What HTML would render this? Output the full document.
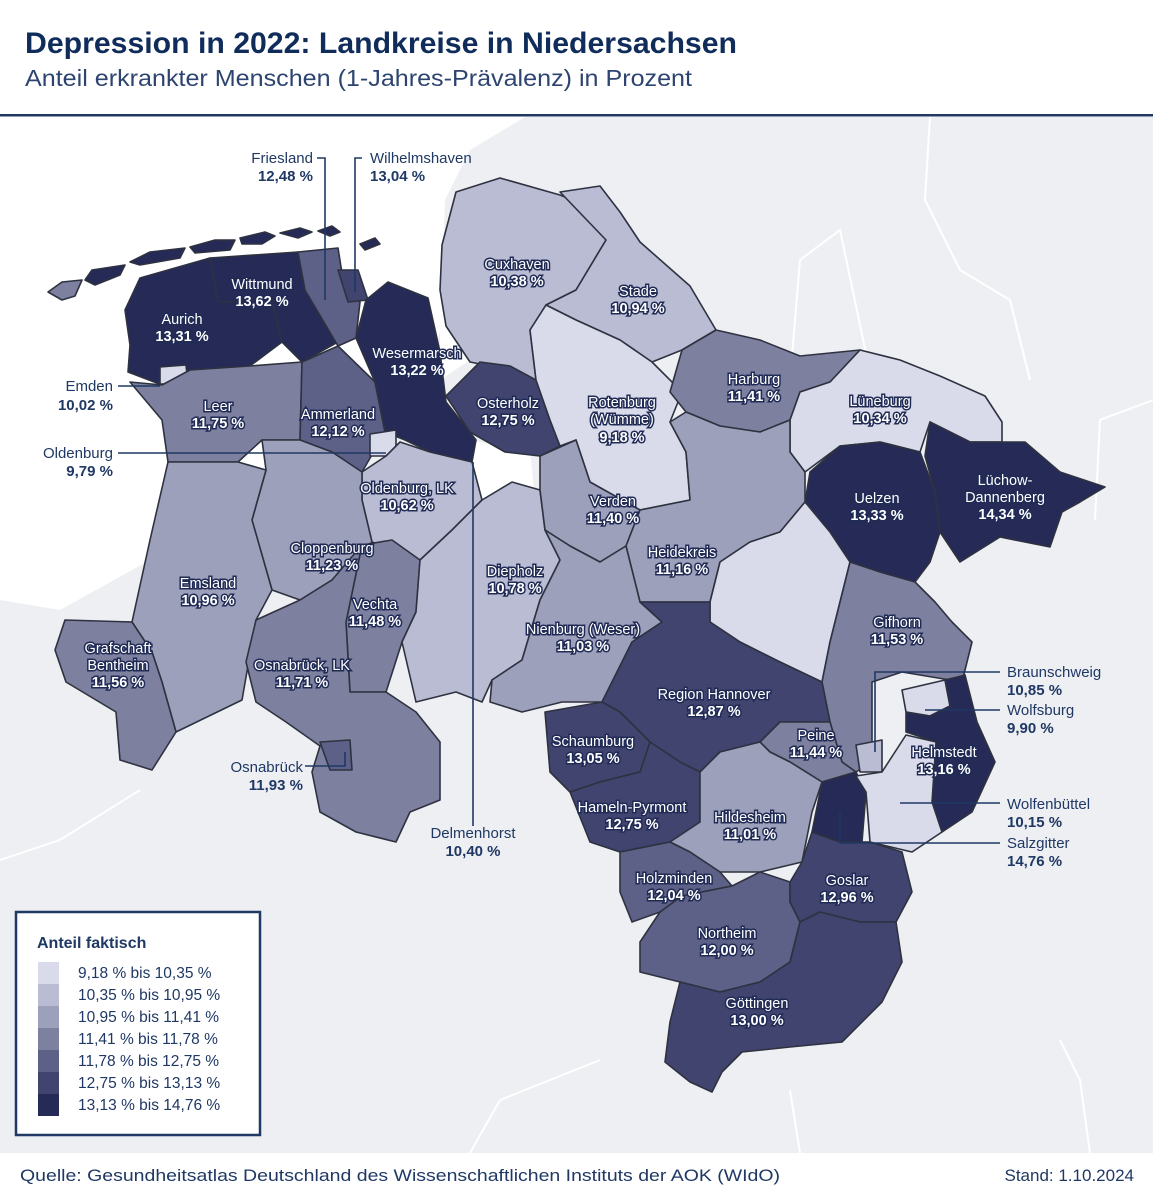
<!DOCTYPE html>
<html><head><meta charset="utf-8">
<style>
html,body{margin:0;padding:0;background:#fff;}
svg{display:block;font-family:"Liberation Sans",sans-serif;}
.r{stroke:#2e3240;stroke-width:1.6;stroke-linejoin:round;}
.c1{fill:#d9dbea}.c2{fill:#b9bcd3}.c3{fill:#9da0bb}.c4{fill:#7d809f}.c5{fill:#5e6187}.c6{fill:#41446e}.c7{fill:#262a57}
.in{font-size:14.5px;fill:#fff;stroke:#1f2a55;stroke-width:3px;paint-order:stroke;text-anchor:middle;}
.b{font-weight:bold;}
.out{font-size:15px;fill:#1f3864;}
.ld{stroke:#1f3864;stroke-width:1.6;fill:none;}
</style></head><body>
<svg width="1153" height="1200" viewBox="0 0 1153 1200" xmlns="http://www.w3.org/2000/svg">
<rect width="1153" height="1200" fill="#fff"/>
<text x="25" y="53" font-size="30" font-weight="bold" fill="#0f2c5a" textLength="712" lengthAdjust="spacingAndGlyphs">Depression in 2022: Landkreise in Niedersachsen</text>
<text x="25" y="86" font-size="23" fill="#2d4470" textLength="667" lengthAdjust="spacingAndGlyphs">Anteil erkrankter Menschen (1-Jahres-Prävalenz) in Prozent</text>
<rect x="0" y="114" width="1153" height="2.5" fill="#1f3864"/>
<rect x="0" y="117" width="1153" height="1036" fill="#eeeff2"/>
<path d="M0,117 L525,117 L470,150 L445,200 L440,330 L420,420 L300,470 L150,560 L60,610 L0,600 Z" fill="#fff"/>
<path d="M440,300 L470,330 L470,360 L440,380 Z M465,440 L530,450 L535,500 L480,505 Z" fill="#fff"/>
<g fill="none" stroke="#fff" stroke-width="2">
<path d="M930,117 L925,200 L960,270 L1010,300 L1030,380"/>
<path d="M790,380 L800,260 L840,230 L880,420"/>
<path d="M1153,400 L1100,420 L1095,520"/>
<path d="M0,860 L60,840 L140,790"/>
<path d="M470,1153 L500,1100 L600,1060"/>
<path d="M800,1153 L790,1090 M1090,1153 L1080,1080 L1060,1040"/>
</g>
<g class="r">
<path class="c4" d="M48,292 L62,282 L82,280 L75,296 L62,300 Z"/>
<path class="c7" d="M85,280 L92,270 L125,265 L120,275 L95,285 Z M130,262 L150,252 L185,248 L180,258 L140,265 Z M190,247 L215,240 L235,240 L230,250 L195,253 Z M240,238 L265,232 L275,236 L262,244 L242,244 Z M280,233 L300,228 L312,232 L298,238 Z M318,231 L332,226 L340,232 L330,236 Z M360,244 L375,238 L380,244 L365,250 Z"/>
<path class="c7" d="M125,310 L140,278 L210,258 L218,302 L272,300 L282,342 L250,366 L190,370 L162,385 L128,372 L130,345 Z"/>
<path class="c7" d="M210,258 L298,252 L305,290 L338,342 L302,362 L282,342 L272,300 L218,302 Z"/>
<path class="c5" d="M298,252 L338,248 L345,292 L360,302 L356,338 L338,346 L305,290 Z"/>
<path class="c6" d="M338,270 L358,270 L368,300 L348,302 Z"/>
<path class="c1" d="M160,367 L186,365 L188,384 L160,384 Z"/>
<path class="c4" d="M130,382 L162,385 L190,370 L250,366 L302,362 L300,440 L262,440 L238,462 L168,462 L162,420 Z"/>
<path class="c5" d="M302,362 L338,346 L375,382 L385,432 L362,472 L332,452 L300,440 Z"/>
<path class="c7" d="M388,282 L428,298 L440,352 L446,402 L476,440 L472,462 L430,452 L405,440 L385,432 L375,382 L356,338 L366,300 Z"/>
<path class="c1" d="M370,434 L396,430 L396,456 L370,456 Z"/>
<path class="c2" d="M362,472 L386,456 L400,442 L430,452 L472,462 L482,500 L452,530 L420,560 L372,542 L362,500 Z"/>
<path class="c3" d="M262,440 L300,440 L332,452 L362,472 L362,500 L372,542 L332,580 L300,600 L272,590 L252,520 L266,470 Z"/>
<path class="c3" d="M168,462 L238,462 L266,470 L252,520 L272,590 L256,620 L242,700 L176,732 L162,682 L152,652 L132,622 L150,540 Z"/>
<path class="c4" d="M65,620 L132,622 L152,652 L162,682 L176,732 L152,770 L120,760 L116,712 L66,682 L55,650 Z"/>
<path class="c4" d="M362,545 L392,540 L420,560 L416,612 L402,642 L386,692 L350,692 L346,622 Z"/>
<path class="c4" d="M256,620 L300,600 L332,580 L362,545 L346,622 L350,692 L386,692 L416,712 L440,742 L440,800 L410,812 L396,842 L356,832 L320,812 L312,772 L320,746 L286,722 L256,702 L246,662 Z"/>
<path class="c5" d="M320,742 L350,740 L352,770 L330,770 Z"/>
<path class="c2" d="M420,560 L452,530 L482,500 L512,482 L540,490 L545,530 L560,560 L540,600 L522,660 L492,680 L482,702 L456,692 L416,702 L402,642 L416,612 Z"/>
<path class="c2" d="M442,245 L456,192 L500,178 L560,195 L602,212 L606,240 L576,290 L546,305 L530,330 L536,380 L510,390 L490,366 L470,362 L446,326 L440,290 Z"/>
<path class="c2" d="M560,192 L600,186 L620,212 L640,242 L690,286 L716,330 L682,350 L652,362 L620,340 L576,320 L546,305 L576,290 L606,240 Z"/>
<path class="c6" d="M446,396 L480,362 L510,366 L536,380 L550,420 L560,446 L540,456 L505,452 L470,432 Z"/>
<path class="c1" d="M546,305 L576,320 L620,340 L652,362 L682,392 L670,422 L686,452 L690,500 L640,510 L590,482 L576,440 L560,446 L550,420 L536,380 L530,330 Z"/>
<path class="c3" d="M540,456 L576,440 L590,482 L640,510 L626,546 L600,562 L570,546 L545,530 L540,490 Z"/>
<path class="c4" d="M682,350 L716,330 L760,340 L800,356 L860,350 L830,382 L800,392 L790,420 L760,432 L720,426 L686,412 L670,392 Z"/>
<path class="c1" d="M800,392 L830,382 L860,350 L900,360 L940,376 L985,396 L1002,422 L1002,442 L970,442 L930,422 L920,452 L880,442 L840,446 L805,472 L790,452 L790,420 Z"/>
<path class="c7" d="M930,422 L970,442 L1002,442 L1025,442 L1060,472 L1105,487 L1080,502 L1062,512 L1050,547 L1000,537 L960,562 L940,532 L935,492 L925,456 Z"/>
<path class="c7" d="M840,446 L880,442 L920,452 L935,492 L940,532 L930,562 L915,582 L880,572 L850,562 L830,532 L805,502 L810,472 Z"/>
<path class="c3" d="M686,412 L720,426 L760,432 L790,420 L790,452 L805,472 L805,502 L780,532 L750,542 L720,562 L710,602 L670,602 L640,602 L626,546 L640,510 L690,500 L686,452 L670,422 Z"/>
<path class="c1" d="M720,562 L750,542 L780,532 L805,502 L830,532 L850,562 L840,602 L830,642 L822,682 L780,662 L740,642 L710,622 L710,602 Z"/>
<path class="c4" d="M850,562 L880,572 L915,582 L935,602 L952,622 L972,642 L962,682 L902,672 L872,682 L872,762 L856,772 L842,762 L830,722 L822,682 L830,642 L840,602 Z"/>
<path class="c3" d="M545,530 L570,546 L600,562 L626,546 L640,602 L662,622 L632,642 L612,682 L602,702 L562,702 L522,712 L490,702 L492,680 L522,660 L540,600 L560,560 Z"/>
<path class="c6" d="M632,642 L662,622 L640,602 L710,602 L710,622 L740,642 L780,662 L822,682 L830,722 L810,722 L780,722 L760,742 L720,752 L700,772 L680,762 L650,742 L620,712 L602,702 L612,682 Z"/>
<path class="c6" d="M545,712 L602,702 L620,712 L650,742 L640,772 L600,782 L570,792 L550,772 Z"/>
<path class="c4" d="M780,722 L810,722 L830,722 L842,762 L856,772 L822,782 L790,762 L770,752 L760,742 Z"/>
<path class="c6" d="M570,792 L600,782 L640,772 L650,742 L680,762 L700,772 L700,822 L670,842 L620,852 L590,842 Z"/>
<path class="c3" d="M700,772 L720,752 L760,742 L770,752 L790,762 L822,782 L812,812 L802,862 L760,872 L720,872 L690,852 L670,842 L700,822 Z"/>
<path class="c5" d="M620,852 L670,842 L690,852 L720,872 L732,886 L682,896 L660,912 L632,922 L620,892 Z"/>
<path class="c5" d="M660,912 L682,896 L732,886 L760,872 L790,882 L790,902 L800,922 L790,962 L760,982 L720,992 L680,982 L640,972 L640,942 Z"/>
<path class="c6" d="M802,862 L812,832 L840,842 L870,842 L902,852 L912,892 L896,922 L860,922 L820,912 L800,922 L790,902 L790,882 Z"/>
<path class="c6" d="M680,982 L720,992 L760,982 L790,962 L800,922 L820,912 L860,922 L896,922 L902,962 L882,1002 L842,1042 L790,1047 L742,1052 L722,1072 L712,1092 L690,1082 L665,1062 L670,1022 Z"/>
<path class="c7" d="M822,782 L856,772 L866,792 L862,842 L840,842 L812,832 L816,812 Z"/>
<path class="c2" d="M856,745 L882,740 L882,772 L860,772 Z"/>
<path class="c1" d="M902,690 L945,680 L950,706 L930,716 L906,712 Z"/>
<path class="c7" d="M945,680 L965,675 L977,722 L995,762 L972,812 L942,832 L932,802 L936,742 L906,732 L906,712 L930,716 L950,706 Z"/>
<path class="c1" d="M856,776 L882,772 L906,735 L936,742 L932,802 L942,832 L912,852 L870,842 L866,792 Z"/>
</g>
<path class="ld" d="M317,158 H325 V300 M362,158 H355 V292 M118,386 H160 M118,453 H386 M473,462 V826 M305,766 H345 V752 M1000,672 H875 V752 M1000,710 H925 M1000,803 H900 M1000,843 H840 V812"/>
<g class="out">
<text x="313" y="163" text-anchor="end">Friesland</text><text x="313" y="181" text-anchor="end" class="b">12,48 %</text>
<text x="370" y="163">Wilhelmshaven</text><text x="370" y="181" class="b">13,04 %</text>
<text x="113" y="391" text-anchor="end">Emden</text><text x="113" y="410" text-anchor="end" class="b">10,02 %</text>
<text x="113" y="458" text-anchor="end">Oldenburg</text><text x="113" y="476" text-anchor="end" class="b">9,79 %</text>
<text x="303" y="772" text-anchor="end">Osnabrück</text><text x="303" y="790" text-anchor="end" class="b">11,93 %</text>
<text x="473" y="838" text-anchor="middle">Delmenhorst</text><text x="473" y="856" text-anchor="middle" class="b">10,40 %</text>
<text x="1007" y="677">Braunschweig</text><text x="1007" y="695" class="b">10,85 %</text>
<text x="1007" y="715">Wolfsburg</text><text x="1007" y="733" class="b">9,90 %</text>
<text x="1007" y="809">Wolfenbüttel</text><text x="1007" y="827" class="b">10,15 %</text>
<text x="1007" y="848">Salzgitter</text><text x="1007" y="866" class="b">14,76 %</text>
</g>
<g class="in">
<text x="262" y="289">Wittmund</text><text x="262" y="306" class="b">13,62 %</text>
<text x="182" y="324">Aurich</text><text x="182" y="341" class="b">13,31 %</text>
<text x="417" y="358">Wesermarsch</text><text x="417" y="375" class="b">13,22 %</text>
<text x="218" y="411">Leer</text><text x="218" y="428" class="b">11,75 %</text>
<text x="338" y="419">Ammerland</text><text x="338" y="436" class="b">12,12 %</text>
<text x="508" y="408">Osterholz</text><text x="508" y="425" class="b">12,75 %</text>
<text x="407" y="493">Oldenburg, LK</text><text x="407" y="510" class="b">10,62 %</text>
<text x="332" y="553">Cloppenburg</text><text x="332" y="570" class="b">11,23 %</text>
<text x="208" y="588">Emsland</text><text x="208" y="605" class="b">10,96 %</text>
<text x="375" y="609">Vechta</text><text x="375" y="626" class="b">11,48 %</text>
<text x="118" y="653">Grafschaft</text><text x="118" y="670">Bentheim</text><text x="118" y="687" class="b">11,56 %</text>
<text x="302" y="670">Osnabrück, LK</text><text x="302" y="687" class="b">11,71 %</text>
<text x="517" y="269">Cuxhaven</text><text x="517" y="286" class="b">10,38 %</text>
<text x="638" y="296">Stade</text><text x="638" y="313" class="b">10,94 %</text>
<text x="622" y="407">Rotenburg</text><text x="622" y="424">(Wümme)</text><text x="622" y="442" class="b">9,18 %</text>
<text x="754" y="384">Harburg</text><text x="754" y="401" class="b">11,41 %</text>
<text x="880" y="406">Lüneburg</text><text x="880" y="423" class="b">10,34 %</text>
<text x="613" y="506">Verden</text><text x="613" y="523" class="b">11,40 %</text>
<text x="515" y="576">Diepholz</text><text x="515" y="593" class="b">10,78 %</text>
<text x="877" y="503">Uelzen</text><text x="877" y="520" class="b">13,33 %</text>
<text x="1005" y="485">Lüchow-</text><text x="1005" y="502">Dannenberg</text><text x="1005" y="519" class="b">14,34 %</text>
<text x="682" y="557">Heidekreis</text><text x="682" y="574" class="b">11,16 %</text>
<text x="583" y="634">Nienburg (Weser)</text><text x="583" y="651" class="b">11,03 %</text>
<text x="897" y="627">Gifhorn</text><text x="897" y="644" class="b">11,53 %</text>
<text x="714" y="699">Region Hannover</text><text x="714" y="716" class="b">12,87 %</text>
<text x="593" y="746">Schaumburg</text><text x="593" y="763" class="b">13,05 %</text>
<text x="816" y="740">Peine</text><text x="816" y="757" class="b">11,44 %</text>
<text x="944" y="757">Helmstedt</text><text x="944" y="774" class="b">13,16 %</text>
<text x="632" y="812">Hameln-Pyrmont</text><text x="632" y="829" class="b">12,75 %</text>
<text x="750" y="822">Hildesheim</text><text x="750" y="839" class="b">11,01 %</text>
<text x="674" y="883">Holzminden</text><text x="674" y="900" class="b">12,04 %</text>
<text x="847" y="885">Goslar</text><text x="847" y="902" class="b">12,96 %</text>
<text x="727" y="938">Northeim</text><text x="727" y="955" class="b">12,00 %</text>
<text x="757" y="1008">Göttingen</text><text x="757" y="1025" class="b">13,00 %</text>
</g>
<rect x="16" y="912" width="244" height="223" fill="#fff" stroke="#1f3864" stroke-width="2.5"/>
<text x="37" y="948" font-size="16" font-weight="bold" fill="#1f3864">Anteil faktisch</text>
<rect x="38" y="962" width="21" height="22" class="c1"/>
<rect x="38" y="984" width="21" height="22" class="c2"/>
<rect x="38" y="1006" width="21" height="22" class="c3"/>
<rect x="38" y="1028" width="21" height="22" class="c4"/>
<rect x="38" y="1050" width="21" height="22" class="c5"/>
<rect x="38" y="1072" width="21" height="22" class="c6"/>
<rect x="38" y="1094" width="21" height="22" class="c7"/>
<g font-size="15.5" fill="#1f3864">
<text x="78" y="978">9,18 % bis 10,35 %</text>
<text x="78" y="1000">10,35 % bis 10,95 %</text>
<text x="78" y="1022">10,95 % bis 11,41 %</text>
<text x="78" y="1044">11,41 % bis 11,78 %</text>
<text x="78" y="1066">11,78 % bis 12,75 %</text>
<text x="78" y="1088">12,75 % bis 13,13 %</text>
<text x="78" y="1110">13,13 % bis 14,76 %</text>
</g>
<text x="20" y="1181" font-size="17" fill="#1f3864" textLength="760" lengthAdjust="spacingAndGlyphs">Quelle: Gesundheitsatlas Deutschland des Wissenschaftlichen Instituts der AOK (WIdO)</text>
<text x="1134" y="1181" font-size="17" fill="#1f3864" text-anchor="end">Stand: 1.10.2024</text>
</svg>
</body></html>
